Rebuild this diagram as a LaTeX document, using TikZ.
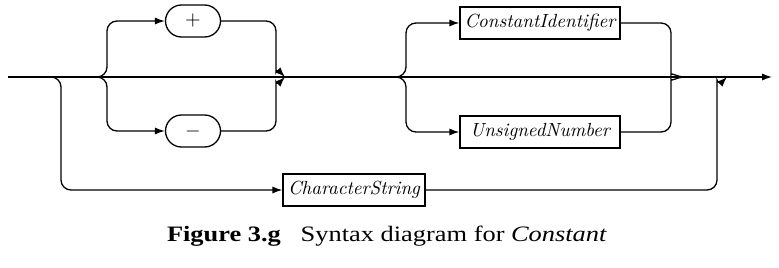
\documentclass[tikz,border=0pt]{standalone}
\usepackage{fontspec}
\newfontfamily\capfont[FakeStretch=1.2]{Liberation Serif}
\usetikzlibrary{arrows.meta,positioning}
\tikzset{
  nonterm/.style={draw,rectangle,line width=.65pt,minimum height=16pt,inner sep=2pt,font=\itshape\fontsize{9.5}{11}\selectfont},
  term/.style={draw,rectangle,rounded corners=8pt,line width=.65pt,minimum width=27.5pt,minimum height=16pt,inner sep=1pt,font=\fontsize{10}{12}\selectfont},
  track/.style={line width=.65pt,rounded corners=5pt},
  arr/.style={-{Latex[length=5pt,width=3.6pt]}},
  captext/.style={font=\capfont\fontsize{11}{13}\selectfont}
}
\begin{document}
\begin{tikzpicture}[x=0.5pt,y=-0.5pt]
  \useasboundingbox (0,0) rectangle (779,267);

  % main track
  \coordinate (start) at (8,77);
  \coordinate (end) at (772,77);
  \draw[track,arr] (start) -- (end);

  % optional sign
  \coordinate (s2) at (97,77);
  \coordinate (s2v) at (107,77);
  \node[term] (plus) at (193,21) {$+$};
  \node[term] (minus) at (193,131) {$-$};
  \coordinate (m1u) at (276,62);
  \coordinate (m1d) at (276,92);
  \coordinate (m1) at (285,77);
  \draw[track,arr] (s2) -- (s2v) |- (plus.west);
  \draw[track,arr] (s2) -- (s2v) |- (minus.west);
  \draw[track,arr] (plus.east) -| (m1u) to[out=-90,in=135] (m1);
  \draw[track,arr] (minus.east) -| (m1d) to[out=90,in=-135] (m1);

  % identifier or number
  \coordinate (s3) at (394,77);
  \coordinate (s3v) at (406,77);
  \node[nonterm,minimum width=80pt] (cid) at (540,23) {ConstantIdentifier};
  \node[nonterm,minimum width=80pt] (unum) at (540,132) {UnsignedNumber};
  \coordinate (m2u) at (671,65);
  \coordinate (m2d) at (671,89);
  \coordinate (m2) at (684,77);
  \draw[track,arr] (s3) -- (s3v) |- (cid.west);
  \draw[track,arr] (s3) -- (s3v) |- (unum.west);
  \draw[track] (cid.east) -| (m2u) to[out=-90,in=180] (m2);
  \draw[track] (unum.east) -| (m2d) to[out=90,in=180] (m2);

  % string bypass
  \coordinate (s1) at (50,77);
  \coordinate (s1v) at (61,77);
  \node[nonterm,minimum width=71pt] (cstr) at (354,190) {CharacterString};
  \coordinate (m3d) at (717,90);
  \coordinate (m3) at (727,77);
  \draw[track,arr] (s1) -- (s1v) |- (cstr.west);
  \draw[track,arr] (cstr.east) -| (m3d) to[out=90,in=-135] (m3);

  % caption
  \node[captext] (caption) at (387,236) {\textbf{Figure 3.g}\hspace{0.9em}Syntax diagram for \textit{Constant}};
\end{tikzpicture}
\end{document}
